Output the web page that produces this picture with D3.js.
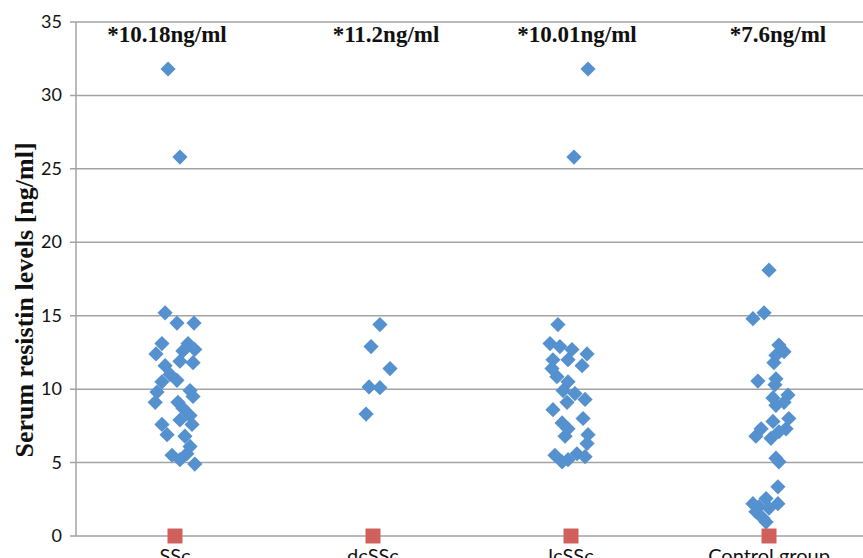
<!DOCTYPE html>
<html>
<head>
<meta charset="utf-8">
<script src="https://cdn.jsdelivr.net/npm/d3@7"></script>
<style>
  body { margin: 0; background: #fff; }
  svg { display: block; }
  .grid line { stroke: #a3a3a3; stroke-width: 1.5; }
  .tick-label { font-family: Lato, "Open Sans", sans-serif; font-size: 18px; fill: #111; }
  .cat-label { font-family: Lato, "Open Sans", sans-serif; font-size: 20px; fill: #111; }
  .note { font-family: "Liberation Serif", "Times New Roman", serif; font-weight: bold; font-size: 23px; fill: #111; }
  .ylabel { font-family: "Liberation Serif", "Times New Roman", serif; font-weight: bold; font-size: 26px; fill: #111; }
</style>
</head>
<body>
<svg width="863" height="558"></svg>
<script>
// categories and group annotations (medians)
var categories = ["SSc", "dcSSc", "lcSSc", "Control group"];
var notes = ["*10.18ng/ml", "*11.2ng/ml", "*10.01ng/ml", "*7.6ng/ml"];
var yTicks = [0, 5, 10, 15, 20, 25, 30, 35];

// [x position in category units, resistin ng/ml]
var sscPoints = [
  [0.965, 31.8], [1.025, 25.8], [0.95, 15.2], [1.01, 14.5], [1.096, 14.5],
  [0.934, 13.1], [0.904, 12.4], [1.066, 13.1], [1.04, 12.6], [1.1, 12.7],
  [0.95, 11.6], [1.025, 11.9], [1.091, 11.8], [0.975, 11.0], [1.01, 10.6],
  [0.934, 10.5], [1.076, 9.9], [0.909, 9.8], [1.091, 9.5], [1.015, 9.1],
  [0.9, 9.1], [1.04, 8.7], [1.076, 8.2], [1.025, 7.9], [0.934, 7.6],
  [1.086, 7.6], [0.96, 6.9], [1.05, 6.8], [1.076, 6.1], [0.985, 5.5],
  [1.06, 5.6], [1.025, 5.2], [1.1, 4.9]
];
var dcsscPoints = [
  [2.035, 14.4], [1.99, 12.9], [2.086, 11.4], [1.98, 10.15], [2.035, 10.1], [1.965, 8.3]
];
var lcsscPoints = [
  [3.086, 31.8], [3.015, 25.8], [2.934, 14.4], [2.894, 13.1], [2.944, 12.9],
  [3.005, 12.7], [3.081, 12.4], [2.909, 12.0], [3.056, 11.6], [2.904, 11.4],
  [2.985, 12.0], [2.929, 10.85], [2.985, 10.5], [2.96, 9.9], [3.02, 9.7],
  [3.071, 9.3], [2.98, 9.1], [2.909, 8.6], [3.061, 8.0], [2.955, 7.7],
  [2.985, 7.3], [3.086, 6.9], [2.97, 6.8], [3.081, 6.3], [2.919, 5.5],
  [2.985, 5.2], [3.03, 5.6], [3.071, 5.4], [2.955, 5.05]
];
var controlPoints = [
  [4.0, 18.1], [3.919, 14.8], [3.975, 15.2], [4.05, 13.0], [4.076, 12.55],
  [4.035, 12.3], [4.025, 11.8], [3.944, 10.55], [4.035, 10.7], [4.03, 10.3],
  [4.096, 9.6], [4.02, 9.4], [4.076, 9.1], [4.035, 8.9], [4.1, 8.0],
  [4.02, 7.8], [3.96, 7.3], [4.086, 7.3], [4.05, 7.1], [3.934, 6.8],
  [4.01, 6.65], [4.05, 5.05], [4.035, 5.3], [4.045, 3.35], [3.919, 2.2],
  [3.985, 2.55], [4.045, 2.2], [3.934, 1.65], [3.97, 1.2], [3.985, 0.95],
  [4.0, 1.9], [3.95, 2.0]
];
var baseline = [[1, 0], [2, 0], [3, 0], [4, 0]];

var svg = d3.select("svg");

var x = d3.scaleLinear().domain([0.5, 4.5]).range([76, 868]);
var y = d3.scaleLinear().domain([0, 35]).range([536, 22]);

// gridlines
svg.append("g").attr("class", "grid")
  .selectAll("line")
  .data(yTicks)
  .enter().append("line")
  .attr("x1", 70).attr("x2", 863)
  .attr("y1", d => y(d)).attr("y2", d => y(d));

// y axis line
svg.append("line")
  .attr("x1", x(0.5)).attr("x2", x(0.5))
  .attr("y1", y(35)).attr("y2", y(0))
  .attr("stroke", "#a3a3a3").attr("stroke-width", 1.5);

svg.append("g")
  .selectAll("text")
  .data(yTicks)
  .enter().append("text")
  .attr("class", "tick-label")
  .attr("x", 62)
  .attr("y", d => y(d) + 6)
  .attr("text-anchor", "end")
  .text(d => d);

svg.append("text")
  .attr("class", "ylabel")
  .attr("transform", "translate(33," + 300 + ") rotate(-90)")
  .attr("text-anchor", "middle")
  .text("Serum resistin levels [ng/ml]");

// category labels, partly cut by the bottom edge
svg.append("g")
  .selectAll("text")
  .data(categories)
  .enter().append("text")
  .attr("class", "cat-label")
  .attr("x", (d, i) => x(i + 1))
  .attr("y", 563)
  .attr("text-anchor", "middle")
  .text(d => d);

var noteShift = [-8, 13, 6, 9];
svg.append("g")
  .selectAll("text")
  .data(notes)
  .enter().append("text")
  .attr("class", "note")
  .attr("x", (d, i) => x(i + 1) + noteShift[i])
  .attr("y", 42)
  .attr("text-anchor", "middle")
  .text(d => d);

// points
var diamond = "M0,-7.6L7.6,0L0,7.6L-7.6,0Z";
var allPoints = sscPoints.concat(dcsscPoints, lcsscPoints, controlPoints);

svg.append("g")
  .selectAll("path")
  .data(allPoints)
  .enter().append("path")
  .attr("d", diamond)
  .attr("transform", d => "translate(" + x(d[0]) + "," + y(d[1]) + ")")
  .attr("fill", "#5591cf");

svg.append("g")
  .selectAll("rect")
  .data(baseline)
  .enter().append("rect")
  .attr("x", d => x(d[0]) - 7.5)
  .attr("y", d => y(d[1]) - 7.5)
  .attr("width", 15).attr("height", 15)
  .attr("fill", "#d0605c");
</script>
</body>
</html>
